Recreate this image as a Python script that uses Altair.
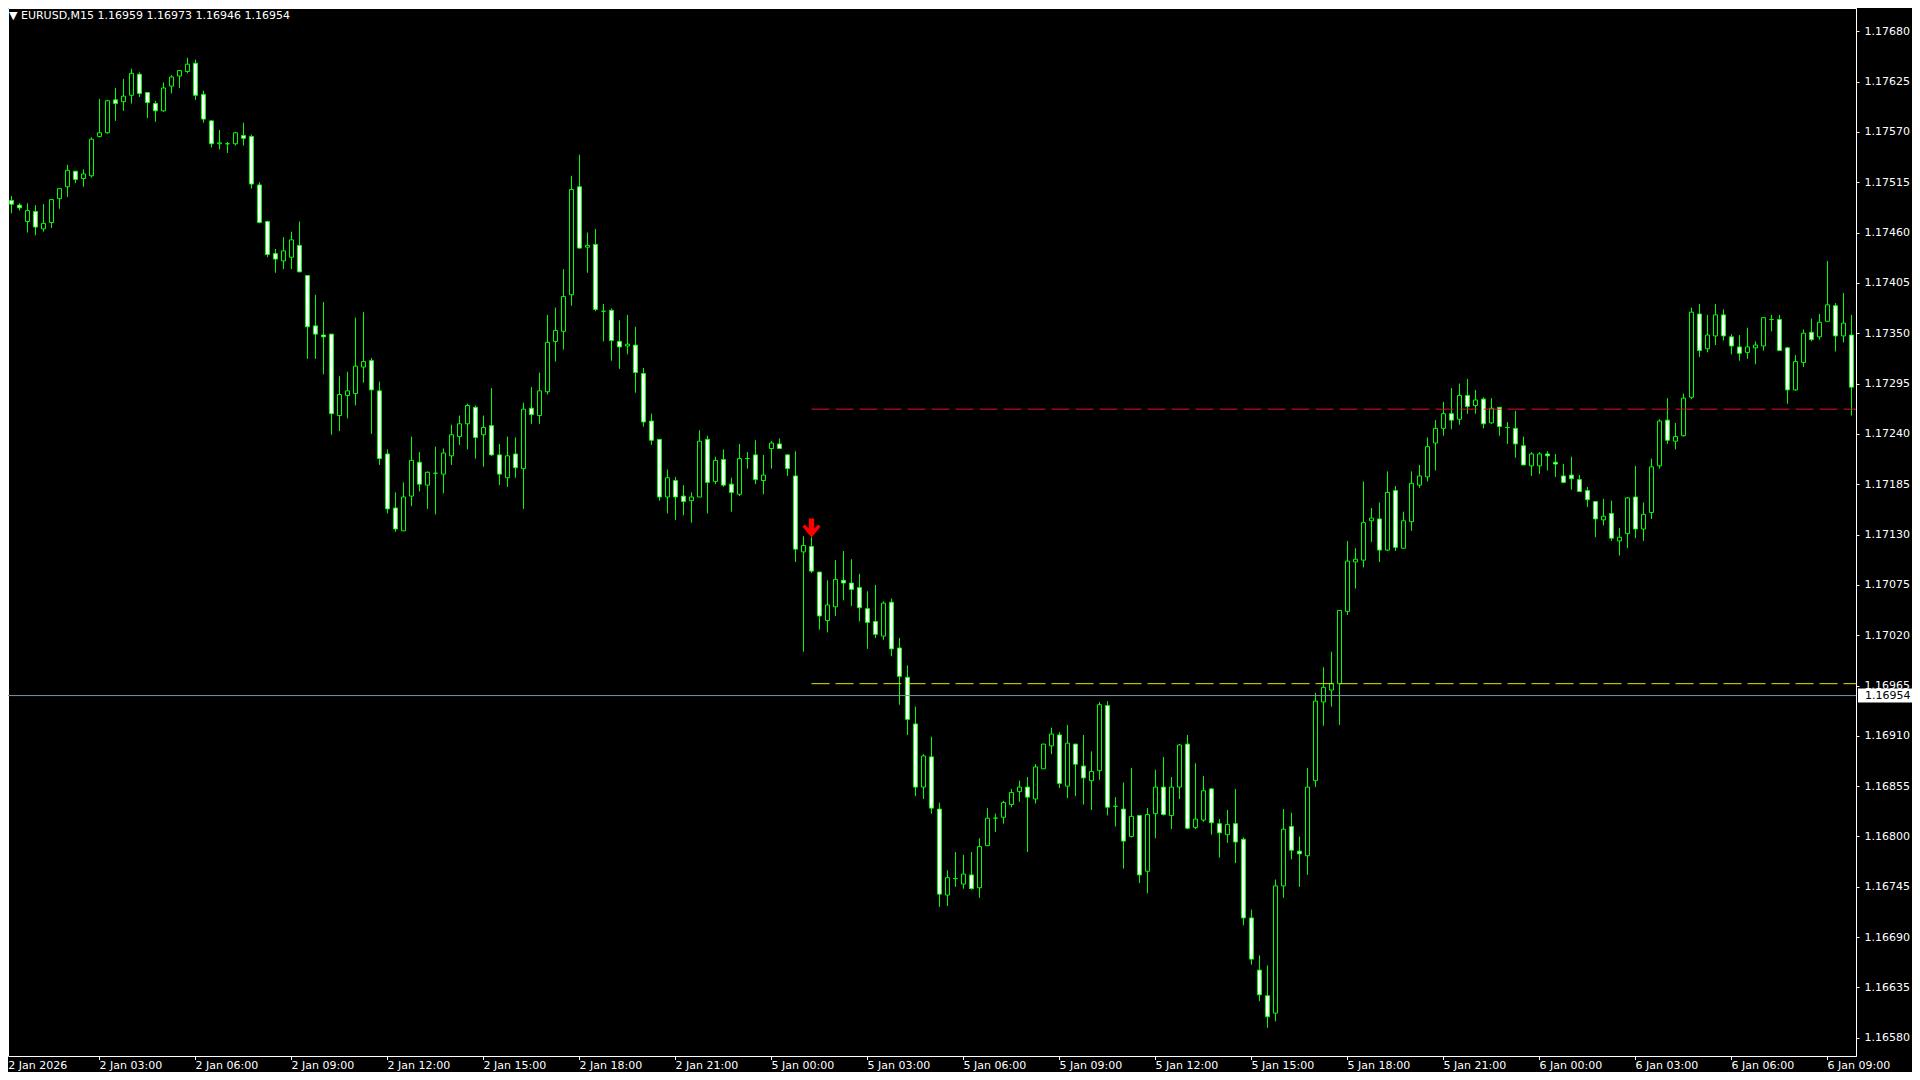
import altair as alt
import pandas as pd

# ---------------- data ----------------
SYMBOL = "EURUSD,M15"
HEADER_OHLC = ["1.16959", "1.16973", "1.16946", "1.16954"]
BID = 1.16954
RED_LEVEL = 1.17267
YELLOW_LEVEL = 1.16967
SIGNAL_BAR = 101
SIGNAL_PRICE = 1.17137
LEVEL_START_BAR = 101

OPEN = [
    1.17486, 1.17495, 1.17490, 1.17472, 1.17483, 1.17464, 1.17471, 1.17497, 1.17510, 1.17527,
    1.17519, 1.17522, 1.17565, 1.17569, 1.17605, 1.17603, 1.17610, 1.17633, 1.17613, 1.17601,
    1.17593, 1.17620, 1.17631, 1.17636, 1.17645, 1.17611, 1.17582, 1.17557, 1.17557, 1.17557,
    1.17566, 1.17565, 1.17512, 1.17472, 1.17437, 1.17429, 1.17433, 1.17446, 1.17413, 1.17358,
    1.17348, 1.17349, 1.17260, 1.17282, 1.17284, 1.17313, 1.17320, 1.17287, 1.17218, 1.17159,
    1.17134, 1.17172, 1.17209, 1.17184, 1.17197, 1.17196, 1.17216, 1.17237, 1.17251, 1.17269,
    1.17239, 1.17249, 1.17217, 1.17192, 1.17218, 1.17202, 1.17268, 1.17260, 1.17286, 1.17341,
    1.17352, 1.17392, 1.17510, 1.17444, 1.17447, 1.17374, 1.17375, 1.17341, 1.17336, 1.17337,
    1.17306, 1.17254, 1.17234, 1.17171, 1.17189, 1.17172, 1.17167, 1.17171, 1.17234, 1.17188,
    1.17212, 1.17185, 1.17174, 1.17213, 1.17217, 1.17189, 1.17224, 1.17229, 1.17217, 1.17194,
    1.17111, 1.17117, 1.17089, 1.17036, 1.17051, 1.17080, 1.17077, 1.17072, 1.17049, 1.17035,
    1.17019, 1.17056, 1.17006, 1.16974, 1.16923, 1.16854, 1.16887, 1.16830, 1.16736, 1.16754,
    1.16748, 1.16758, 1.16744, 1.16790, 1.16820, 1.16821, 1.16835, 1.16849, 1.16854, 1.16841,
    1.16874, 1.16899, 1.16911, 1.16855, 1.16901, 1.16877, 1.16861, 1.16872, 1.16943, 1.16833,
    1.16830, 1.16800, 1.16823, 1.16762, 1.16825, 1.16854, 1.16823, 1.16854, 1.16901, 1.16810,
    1.16818, 1.16852, 1.16814, 1.16802, 1.16814, 1.16797, 1.16711, 1.16654, 1.16626, 1.16607,
    1.16746, 1.16811, 1.16784, 1.16779, 1.16861, 1.16947, 1.16960, 1.16967, 1.17046, 1.17100,
    1.17102, 1.17145, 1.17147, 1.17113, 1.17178, 1.17115, 1.17144, 1.17184, 1.17193, 1.17230,
    1.17246, 1.17262, 1.17256, 1.17282, 1.17271, 1.17278, 1.17252, 1.17269, 1.17247, 1.17246,
    1.17227, 1.17205, 1.17205, 1.17218, 1.17209, 1.17194, 1.17195, 1.17190, 1.17178, 1.17166,
    1.17146, 1.17153, 1.17123, 1.17131, 1.17171, 1.17136, 1.17154, 1.17205, 1.17255, 1.17232,
    1.17238, 1.17280, 1.17371, 1.17333, 1.17347, 1.17370, 1.17346, 1.17335, 1.17329, 1.17334,
    1.17336, 1.17365, 1.17365, 1.17334, 1.17288, 1.17318, 1.17351, 1.17346, 1.17363, 1.17380,
    1.17347, 1.17348,
]
HIGH = [
    1.17503, 1.17500, 1.17492, 1.17492, 1.17490, 1.17491, 1.17496, 1.17508, 1.17534, 1.17527,
    1.17529, 1.17564, 1.17606, 1.17605, 1.17618, 1.17628, 1.17639, 1.17635, 1.17613, 1.17604,
    1.17624, 1.17632, 1.17637, 1.17651, 1.17649, 1.17615, 1.17583, 1.17572, 1.17559, 1.17570,
    1.17580, 1.17567, 1.17515, 1.17473, 1.17442, 1.17455, 1.17461, 1.17472, 1.17413, 1.17392,
    1.17384, 1.17349, 1.17303, 1.17308, 1.17367, 1.17373, 1.17323, 1.17297, 1.17223, 1.17176,
    1.17187, 1.17237, 1.17220, 1.17199, 1.17226, 1.17224, 1.17250, 1.17260, 1.17273, 1.17271,
    1.17260, 1.17290, 1.17229, 1.17237, 1.17236, 1.17274, 1.17291, 1.17307, 1.17370, 1.17378,
    1.17420, 1.17522, 1.17545, 1.17460, 1.17464, 1.17382, 1.17377, 1.17364, 1.17370, 1.17357,
    1.17312, 1.17262, 1.17234, 1.17201, 1.17193, 1.17184, 1.17176, 1.17244, 1.17238, 1.17215,
    1.17223, 1.17192, 1.17229, 1.17220, 1.17233, 1.17217, 1.17232, 1.17235, 1.17218, 1.17221,
    1.17128, 1.17128, 1.17089, 1.17080, 1.17102, 1.17112, 1.17103, 1.17087, 1.17068, 1.17075,
    1.17057, 1.17060, 1.17017, 1.16987, 1.16942, 1.16890, 1.16909, 1.16837, 1.16763, 1.16783,
    1.16780, 1.16783, 1.16798, 1.16831, 1.16825, 1.16839, 1.16852, 1.16861, 1.16865, 1.16879,
    1.16901, 1.16919, 1.16914, 1.16922, 1.16901, 1.16911, 1.16893, 1.16947, 1.16948, 1.16843,
    1.16859, 1.16875, 1.16823, 1.16831, 1.16873, 1.16887, 1.16865, 1.16901, 1.16911, 1.16880,
    1.16866, 1.16853, 1.16819, 1.16829, 1.16852, 1.16799, 1.16720, 1.16670, 1.16659, 1.16753,
    1.16830, 1.16826, 1.16800, 1.16875, 1.16957, 1.16985, 1.17002, 1.17047, 1.17123, 1.17115,
    1.17188, 1.17159, 1.17165, 1.17199, 1.17183, 1.17155, 1.17199, 1.17206, 1.17236, 1.17255,
    1.17275, 1.17290, 1.17295, 1.17300, 1.17288, 1.17280, 1.17279, 1.17269, 1.17253, 1.17265,
    1.17237, 1.17220, 1.17220, 1.17221, 1.17218, 1.17207, 1.17215, 1.17195, 1.17182, 1.17166,
    1.17169, 1.17167, 1.17137, 1.17171, 1.17205, 1.17165, 1.17213, 1.17256, 1.17279, 1.17252,
    1.17284, 1.17378, 1.17382, 1.17370, 1.17382, 1.17376, 1.17349, 1.17348, 1.17356, 1.17341,
    1.17367, 1.17370, 1.17370, 1.17335, 1.17326, 1.17354, 1.17366, 1.17371, 1.17429, 1.17383,
    1.17394, 1.17370,
]
LOW = [
    1.17464, 1.17481, 1.17484, 1.17460, 1.17457, 1.17461, 1.17465, 1.17486, 1.17499, 1.17514,
    1.17510, 1.17520, 1.17564, 1.17568, 1.17582, 1.17593, 1.17601, 1.17608, 1.17585, 1.17581,
    1.17592, 1.17612, 1.17618, 1.17634, 1.17605, 1.17580, 1.17553, 1.17551, 1.17547, 1.17555,
    1.17555, 1.17508, 1.17470, 1.17433, 1.17416, 1.17420, 1.17420, 1.17417, 1.17322, 1.17322,
    1.17305, 1.17239, 1.17243, 1.17257, 1.17271, 1.17296, 1.17240, 1.17206, 1.17153, 1.17133,
    1.17134, 1.17161, 1.17177, 1.17158, 1.17152, 1.17175, 1.17206, 1.17228, 1.17223, 1.17213,
    1.17204, 1.17216, 1.17184, 1.17182, 1.17192, 1.17158, 1.17251, 1.17251, 1.17283, 1.17319,
    1.17332, 1.17380, 1.17443, 1.17416, 1.17374, 1.17341, 1.17320, 1.17311, 1.17327, 1.17285,
    1.17248, 1.17228, 1.17167, 1.17153, 1.17146, 1.17151, 1.17143, 1.17171, 1.17153, 1.17185,
    1.17182, 1.17155, 1.17172, 1.17202, 1.17185, 1.17174, 1.17202, 1.17224, 1.17194, 1.17100,
    1.17002, 1.17088, 1.17026, 1.17023, 1.17041, 1.17058, 1.17052, 1.17035, 1.17005, 1.17017,
    1.17015, 1.16997, 1.16944, 1.16911, 1.16844, 1.16841, 1.16825, 1.16723, 1.16724, 1.16745,
    1.16743, 1.16742, 1.16733, 1.16790, 1.16805, 1.16814, 1.16832, 1.16838, 1.16783, 1.16836,
    1.16874, 1.16890, 1.16853, 1.16842, 1.16844, 1.16835, 1.16829, 1.16862, 1.16823, 1.16811,
    1.16765, 1.16799, 1.16749, 1.16738, 1.16798, 1.16823, 1.16808, 1.16841, 1.16808, 1.16808,
    1.16816, 1.16802, 1.16777, 1.16793, 1.16771, 1.16703, 1.16660, 1.16620, 1.16591, 1.16598,
    1.16733, 1.16775, 1.16745, 1.16758, 1.16854, 1.16921, 1.16942, 1.16922, 1.17042, 1.17071,
    1.17094, 1.17122, 1.17100, 1.17112, 1.17112, 1.17115, 1.17134, 1.17181, 1.17188, 1.17200,
    1.17238, 1.17245, 1.17250, 1.17262, 1.17262, 1.17246, 1.17251, 1.17238, 1.17229, 1.17214,
    1.17206, 1.17194, 1.17196, 1.17200, 1.17193, 1.17186, 1.17179, 1.17177, 1.17160, 1.17127,
    1.17140, 1.17123, 1.17107, 1.17115, 1.17126, 1.17123, 1.17147, 1.17202, 1.17229, 1.17223,
    1.17237, 1.17278, 1.17324, 1.17329, 1.17337, 1.17342, 1.17327, 1.17320, 1.17322, 1.17316,
    1.17331, 1.17352, 1.17331, 1.17273, 1.17287, 1.17313, 1.17341, 1.17343, 1.17363, 1.17330,
    1.17340, 1.17260,
]
CLOSE = [
    1.17496, 1.17491, 1.17487, 1.17484, 1.17466, 1.17470, 1.17496, 1.17508, 1.17528, 1.17518,
    1.17524, 1.17562, 1.17569, 1.17604, 1.17601, 1.17609, 1.17634, 1.17612, 1.17602, 1.17593,
    1.17618, 1.17630, 1.17637, 1.17644, 1.17610, 1.17584, 1.17557, 1.17558, 1.17557, 1.17569,
    1.17563, 1.17513, 1.17471, 1.17436, 1.17431, 1.17440, 1.17452, 1.17417, 1.17357, 1.17349,
    1.17346, 1.17262, 1.17283, 1.17287, 1.17314, 1.17319, 1.17288, 1.17213, 1.17158, 1.17136,
    1.17171, 1.17211, 1.17185, 1.17198, 1.17197, 1.17219, 1.17239, 1.17251, 1.17271, 1.17236,
    1.17247, 1.17217, 1.17196, 1.17216, 1.17203, 1.17267, 1.17261, 1.17287, 1.17340, 1.17353,
    1.17390, 1.17507, 1.17443, 1.17446, 1.17376, 1.17374, 1.17342, 1.17335, 1.17338, 1.17307,
    1.17253, 1.17233, 1.17171, 1.17192, 1.17171, 1.17166, 1.17171, 1.17232, 1.17187, 1.17211,
    1.17184, 1.17176, 1.17213, 1.17213, 1.17190, 1.17195, 1.17230, 1.17224, 1.17202, 1.17114,
    1.17118, 1.17090, 1.17041, 1.17053, 1.17081, 1.17077, 1.17070, 1.17050, 1.17034, 1.17021,
    1.17055, 1.17005, 1.16975, 1.16928, 1.16854, 1.16888, 1.16831, 1.16737, 1.16755, 1.16754,
    1.16759, 1.16743, 1.16789, 1.16820, 1.16820, 1.16837, 1.16848, 1.16854, 1.16843, 1.16876,
    1.16901, 1.16912, 1.16858, 1.16902, 1.16879, 1.16864, 1.16871, 1.16944, 1.16832, 1.16833,
    1.16795, 1.16822, 1.16758, 1.16824, 1.16854, 1.16824, 1.16854, 1.16900, 1.16809, 1.16819,
    1.16850, 1.16815, 1.16804, 1.16813, 1.16794, 1.16711, 1.16666, 1.16627, 1.16603, 1.16746,
    1.16808, 1.16785, 1.16781, 1.16854, 1.16948, 1.16963, 1.16967, 1.17047, 1.17101, 1.17103,
    1.17143, 1.17148, 1.17113, 1.17176, 1.17116, 1.17145, 1.17186, 1.17194, 1.17226, 1.17246,
    1.17262, 1.17255, 1.17282, 1.17270, 1.17277, 1.17251, 1.17268, 1.17248, 1.17247, 1.17229,
    1.17206, 1.17218, 1.17218, 1.17216, 1.17207, 1.17187, 1.17191, 1.17177, 1.17168, 1.17147,
    1.17150, 1.17126, 1.17127, 1.17170, 1.17136, 1.17152, 1.17204, 1.17254, 1.17233, 1.17237,
    1.17279, 1.17373, 1.17331, 1.17348, 1.17370, 1.17347, 1.17336, 1.17328, 1.17335, 1.17337,
    1.17367, 1.17365, 1.17331, 1.17288, 1.17319, 1.17350, 1.17343, 1.17362, 1.17381, 1.17347,
    1.17361, 1.17291,
]

PRICE_TICKS = [
    1.16580, 1.16635, 1.16690, 1.16745, 1.16800, 1.16855, 1.16910, 1.16965, 1.17020, 1.17075,
    1.17130, 1.17185, 1.17240, 1.17295, 1.17350, 1.17405, 1.17460, 1.17515, 1.17570, 1.17625,
    1.17680,
]
TIME_TICK_BARS = [0, 12, 24, 36, 48, 60, 72, 84, 96, 108, 120, 132, 144, 156, 168, 180,
                  192, 204, 216, 228]
TIME_TICK_LABELS = [
    "2 Jan 2026", "2 Jan 03:00", "2 Jan 06:00", "2 Jan 09:00", "2 Jan 12:00", "2 Jan 15:00",
    "2 Jan 18:00", "2 Jan 21:00", "5 Jan 00:00", "5 Jan 03:00", "5 Jan 06:00", "5 Jan 09:00",
    "5 Jan 12:00", "5 Jan 15:00", "5 Jan 18:00", "5 Jan 21:00", "6 Jan 00:00", "6 Jan 03:00",
    "6 Jan 06:00", "6 Jan 09:00",
]

# ---------------- styling / layout ----------------
W, H = 1848, 1048
GREEN = "#00ff00"
FONT = "DejaVu Sans"

xs = alt.Scale(domain=[0.5625, 231.5625], zero=False, nice=False)
ys = alt.Scale(domain=[1.1656013, 1.1770537], zero=False, nice=False)

cdf = pd.DataFrame({
    "i": list(range(len(OPEN))),
    "open": OPEN, "high": HIGH, "low": LOW, "close": CLOSE,
})

price_axis = alt.Axis(
    orient="right", values=PRICE_TICKS, format=".5f", title=None, grid=False,
    labelColor="white", labelFont=FONT, labelFontSize=11, tickColor="white",
    tickSize=3, domainColor="white", labelPadding=5, labelFlush=False,
    labelOverlap=False, labelBound=False,
)


def Y(field):
    return alt.Y(field, scale=ys, axis=price_axis)


wicks = alt.Chart(cdf).mark_rule(color=GREEN, strokeWidth=1, clip=True).encode(
    x=alt.X("i:Q", scale=xs, axis=None),
    y=Y("low:Q"),
    y2="high:Q",
)

bodies = alt.Chart(cdf).transform_calculate(
    xa="datum.i - 0.25", xb="datum.i + 0.25",
    kind="datum.close < datum.open ? 'bear' : 'bull'",
).mark_rect(stroke=GREEN, strokeWidth=1, clip=True).encode(
    x=alt.X("xa:Q", scale=xs, axis=None),
    x2="xb:Q",
    y=Y("open:Q"),
    y2="close:Q",
    fill=alt.Fill("kind:N", scale=alt.Scale(domain=["bull", "bear"], range=["black", "white"]),
                  legend=None),
)

levels = pd.DataFrame({"start": [LEVEL_START_BAR, LEVEL_START_BAR],
                       "p": [RED_LEVEL, YELLOW_LEVEL],
                       "name": ["red", "yellow"]})
level_lines = alt.Chart(levels).mark_rule(strokeWidth=1, strokeDash=[18, 6]).encode(
    x=alt.X("start:Q", scale=xs, axis=None),
    x2=alt.value(W),
    y=Y("p:Q"),
    color=alt.Color("name:N", scale=alt.Scale(domain=["red", "yellow"],
                                              range=["#e8102a", "#e6e600"]), legend=None),
)

bid_df = pd.DataFrame({"p": [BID], "t": [f"{BID:.5f}"]})
bid_line = alt.Chart(bid_df).mark_rule(color="#8093a6", strokeWidth=1).encode(
    x=alt.value(0), x2=alt.value(W),
    y=Y("p:Q"),
)
bid_box = alt.Chart(bid_df).mark_point(
    shape="M -1 -0.26 L 1 -0.26 L 1 0.26 L -1 0.26 Z", filled=True, fill="white",
    stroke=None, opacity=1, size=2916,
).encode(x=alt.value(W + 29), y=Y("p:Q"))
bid_text = alt.Chart(bid_df).mark_text(
    align="left", baseline="middle", font=FONT, fontSize=11, color="black",
).encode(x=alt.value(W + 9), y=Y("p:Q"), text="t:N")

arrow_df = pd.DataFrame({"i": [SIGNAL_BAR], "p": [SIGNAL_PRICE]})
arrow = alt.Chart(arrow_df).mark_point(
    shape="M -0.28 -1 L 0.28 -1 L 0.28 0.05 L 0.72 -0.38 L 0.95 -0.15 L 0 1 "
          "L -0.95 -0.15 L -0.72 -0.38 L -0.28 0.05 Z",
    filled=True, fill="#ff0000", stroke=None, opacity=1, size=361,
).encode(x=alt.X("i:Q", scale=xs, axis=None), y=Y("p:Q"))

tdf = pd.DataFrame({"i": TIME_TICK_BARS, "label": TIME_TICK_LABELS})
time_ticks = alt.Chart(tdf).mark_rule(color="white", strokeWidth=1).encode(
    x=alt.X("i:Q", scale=xs, axis=None), y=alt.value(H), y2=alt.value(H + 4),
)
time_labels = alt.Chart(tdf).transform_calculate(
    xp="max(datum.i, 0.6)"
).mark_text(align="left", baseline="top", font=FONT, fontSize=11, color="white").encode(
    x=alt.X("xp:Q", scale=xs, axis=None), y=alt.value(H + 4), text="label:N",
)

hdr_df = pd.DataFrame({"t": ["\u25bc " + SYMBOL + "  " + " ".join(HEADER_OHLC)]})
header = alt.Chart(hdr_df).mark_text(
    align="left", baseline="top", font=FONT, fontSize=11, color="white",
).encode(x=alt.value(1), y=alt.value(2), text="t:N")

chart = alt.layer(
    wicks, bodies, bid_line, level_lines, arrow, time_ticks, time_labels,
    bid_box, bid_text, header,
).properties(
    width=W, height=H,
    padding={"left": 0, "top": 0, "right": 56, "bottom": 16},
    autosize=alt.AutoSizeParams(type="none"),
    background="black",
).configure_view(stroke="white", strokeWidth=1)

chart.save("out.html", embed_options={"renderer": "svg", "actions": False})
